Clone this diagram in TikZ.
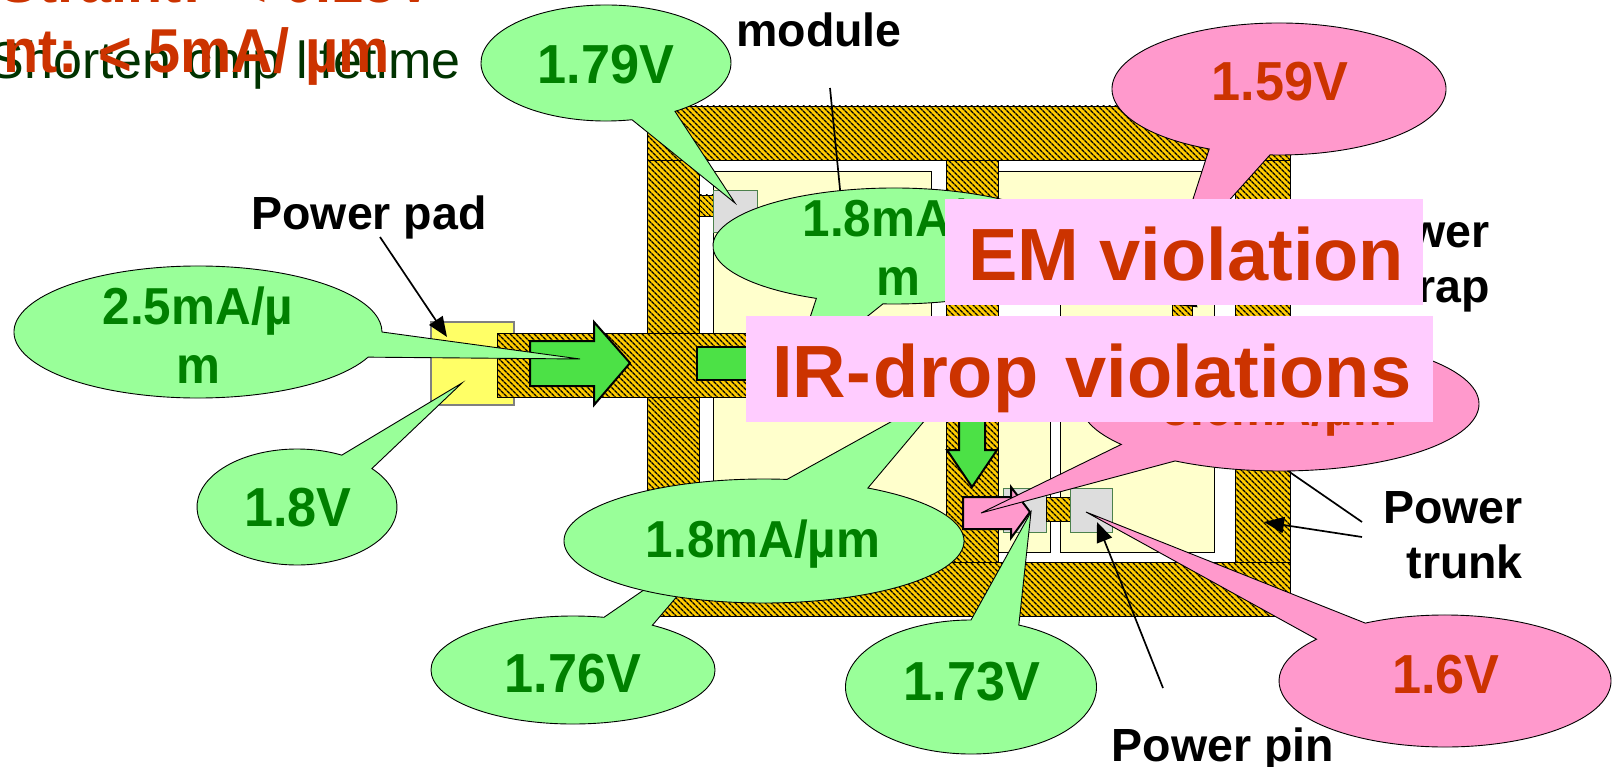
\documentclass[tikz,border=0pt]{standalone}
\usepackage{fontspec}
\setmainfont{Liberation Sans}
\newfontfamily\tallfont{Liberation Sans}[FakeStretch=0.95]
\newfontfamily\narrowfont{Liberation Sans}[FakeStretch=0.93]
\usetikzlibrary{patterns.meta,arrows.meta}
\definecolor{goldbar}{HTML}{FFCC00}
\definecolor{modyellow}{HTML}{FFFFCC}
\definecolor{padyellow}{HTML}{FFFF66}
\definecolor{pingray}{HTML}{DDDDDD}
\definecolor{bubgreen}{HTML}{99FF99}
\definecolor{bubpink}{HTML}{FF99CC}
\definecolor{flowgreen}{HTML}{4CE146}
\definecolor{txtgreen}{HTML}{008000}
\definecolor{txtred}{HTML}{CC3300}
\definecolor{txtdark}{HTML}{003300}
\definecolor{bannerpink}{HTML}{FFCCFF}
\tikzset{
  hatchbar/.style={draw=black, line width=0.9pt, preaction={fill=goldbar}, pattern={Lines[angle=-45,distance=4pt,line width=1.4pt]}, pattern color=black},
  modbox/.style={draw=black, line width=0.9pt, fill=modyellow},
  pinbox/.style={draw=black!50!green!40!gray, line width=0.9pt, fill=pingray},
  padbox/.style={draw=gray, line width=1.2pt, fill=padyellow},
  greenbub/.style={draw=black, line width=0.9pt, fill=bubgreen},
  pinkbub/.style={draw=black, line width=0.9pt, fill=bubpink},
  flowarrow/.style={draw=black, line width=2pt, miter limit=8},
  leader/.style={draw=black, line width=1.7pt},
  leadtip/.style={leader, -{Triangle[length=20pt,width=16pt]}},
  labtext/.style={anchor=base, inner sep=0pt, font=\fontsize{46.5}{55}\selectfont\bfseries},
  voltgreen/.style={anchor=base, inner sep=0pt, text=txtgreen, font=\fontsize{55}{59}\tallfont\bfseries},
  voltred/.style={voltgreen, text=txtred},
  ampgreen/.style={voltgreen, align=center, font=\fontsize{52}{59}\tallfont\bfseries},
  ampred/.style={ampgreen, text=txtred},
  banner/.style={fill=bannerpink},
  bannertext/.style={anchor=base west, inner sep=0pt, text=txtred, font=\fontsize{74}{80}\selectfont\bfseries},
  toptext/.style={anchor=base east, inner sep=0pt, text=txtred, font=\fontsize{62}{70}\narrowfont\bfseries}
}
\begin{document}
\begin{tikzpicture}[x=1pt, y=-1pt]
\useasboundingbox (0,0) rectangle (1616,767);
% text left over from the slide above
\node[anchor=base east, inner sep=0pt, text=txtdark, font=\fontsize{52}{60}\selectfont] (lifetime) at (461,79) {Shorten chip lifetime};
\node[toptext] (droplimit) at (434,2.5) {Straint:\ \ \raisebox{-4pt}{<} 0.18V};
\node[toptext] (emlimit) at (390,73) {nt: \raisebox{-3pt}{<} 5mA/ µm};
% modules
\draw[modbox] (713,171) -- (931,171) -- (931,330) -- (946,330) -- (946,552) -- (713,552) -- cycle;
\draw[modbox] (998,171) -- (1214,171) -- (1214,552) -- (1060,552) -- (1060,300) -- (998,300) -- cycle;
\draw[modbox] (998,380) rectangle (1050,552);
% power ring
\draw[hatchbar] (647,160) rectangle (699,562);
\draw[hatchbar] (1235,160) rectangle (1290,562);
\draw[hatchbar] (946,160) rectangle (998,562);
\draw[hatchbar] (647,106) rectangle (1290,160);
\draw[hatchbar] (647,562) rectangle (1290,616);
\draw[hatchbar] (1172,290) rectangle (1192,330);
\draw[padbox] (431,322) rectangle (514,405);
\draw[hatchbar] (497,333) rectangle (946,397);
% pins
\draw[hatchbar] (699,195) rectangle (713,216);
\draw[pinbox] (713,190) rectangle (757,232);
\draw[pinbox] (1003,488) rectangle (1046,532);
\draw[hatchbar] (1046,497) rectangle (1070,521);
\draw[pinbox] (1070,488) rectangle (1112,532);
% current arrows
\draw[flowarrow, fill=flowgreen] (530,341) -- (594,341) -- (594,322) -- (630,363) -- (594,405) -- (594,386) -- (530,386) -- cycle;
\draw[flowarrow, fill=flowgreen] (697,347) rectangle (760,380);
\draw[flowarrow, fill=flowgreen] (959,400) -- (985,400) -- (985,450) -- (997,450) -- (972,487) -- (947,450) -- (959,450) -- cycle;
\draw[flowarrow, fill=bubpink] (963,497) -- (1011,497) -- (1011,487) -- (1030,512) -- (1011,538) -- (1011,529) -- (963,529) -- cycle;
% leader lines
\coordinate (padfrom) at (380,237);
\coordinate (padtip) at (447,337);
\coordinate (modfrom) at (830,88);
\coordinate (modtip) at (845,240);
\coordinate (strapfrom) at (1380,245);
\coordinate (straptip) at (1176,305);
\coordinate (trunkfrom) at (1362,522);
\coordinate (trunktip) at (1262,453);
\coordinate (trunkfromb) at (1362,537);
\coordinate (trunktipb) at (1264,522);
\coordinate (pinfrom) at (1163,688);
\coordinate (pintip) at (1097,522);
\draw[leadtip] (padfrom) -- (padtip);
\draw[leadtip] (modfrom) -- (modtip);
\draw[leadtip] (strapfrom) -- (straptip);
\draw[leadtip] (trunkfrom) -- (trunktip);
\draw[leadtip] (trunkfromb) -- (trunktipb);
% callouts
\draw[greenbub] (606,63) ++(78:125 and 58) arc[start angle=78, end angle=416.5, x radius=125, y radius=58] -- (735,203) -- cycle;
\draw[greenbub] (198,332) ++(22.4:184 and 66) arc[start angle=22.4, end angle=360, x radius=184, y radius=66] -- (580,359) -- cycle;
\draw[greenbub] (297,507) ++(318.5:100 and 58) arc[start angle=318.5, end angle=656.6, x radius=100, y radius=58] -- (462,383) -- cycle;
\draw[greenbub] (573,670) ++(304:142 and 54) arc[start angle=304, end angle=642.6, x radius=142, y radius=54] -- (737,526) -- cycle;
\draw[greenbub] (894,246) ++(115.4:181 and 58) arc[start angle=115.4, end angle=453.5, x radius=181, y radius=58] -- (790,378) -- cycle;
\draw[greenbub] (764,541) ++(301.3:200 and 62) arc[start angle=301.3, end angle=636.6, x radius=200, y radius=62] -- (952,388) -- cycle;
\draw[greenbub] (971,687) ++(292.4:125.5 and 67) arc[start angle=292.4, end angle=630, x radius=125.5, y radius=67] -- (1031,512) -- cycle;
\draw[pinkbub] (1279,89) ++(114.7:167 and 66) arc[start angle=114.7, end angle=453.1, x radius=167, y radius=66] -- (1172,264) -- cycle;
\draw[pinkbub] (1280,404) ++(142.9:199 and 67) arc[start angle=142.9, end angle=481.8, x radius=199, y radius=67] -- (981,513) -- cycle;
\draw[pinkbub] (1445,681) ++(241.3:166 and 66) arc[start angle=241.3, end angle=579.3, x radius=166, y radius=66] -- (1086,512) -- cycle;
\draw[leadtip] (pinfrom) -- (pintip);
\node[voltgreen] (v179) at (606,84) {1.79V};
\node[voltgreen] (v18) at (298,526) {1.8V};
\node[voltgreen] (v176) at (573,692) {1.76V};
\node[voltgreen] (v173) at (972,700) {1.73V};
\node[voltred] (v159) at (1280,101) {1.59V};
\node[voltred] (v16) at (1446,693) {1.6V};
\node[ampgreen] (amppad) at (198,383) {2.5mA/µ\\m};
\node[ampgreen] (amptop) at (898,295) {1.8mA/µ\\m};
\node[ampgreen] (ampmid) at (763,557) {1.8mA/µm};
\node[ampred] (ampred) at (1280,425) {5.6mA/µm};
% labels
\node[labtext] (padlab) at (369,230) {Power pad};
\node[labtext] (modlab) at (819,47) {module};
\node[labtext, align=right, anchor=base east] (straplab) at (1490,302) {Power\\strap};
\node[labtext, align=right, anchor=base east] (trunklab) at (1523,578) {Power\\trunk};
\node[labtext] (pinlab) at (1223,761) {Power pin};
% violation banners
\fill[banner] (945,199) rectangle (1423,305);
\fill[banner] (746,316) rectangle (1433,422);
\node[bannertext] (emtext) at (968,280) {EM violation};
\node[bannertext] (irtext) at (772,397) {IR-\kern3pt drop\kern7pt\ violations};
\end{tikzpicture}
\end{document}
